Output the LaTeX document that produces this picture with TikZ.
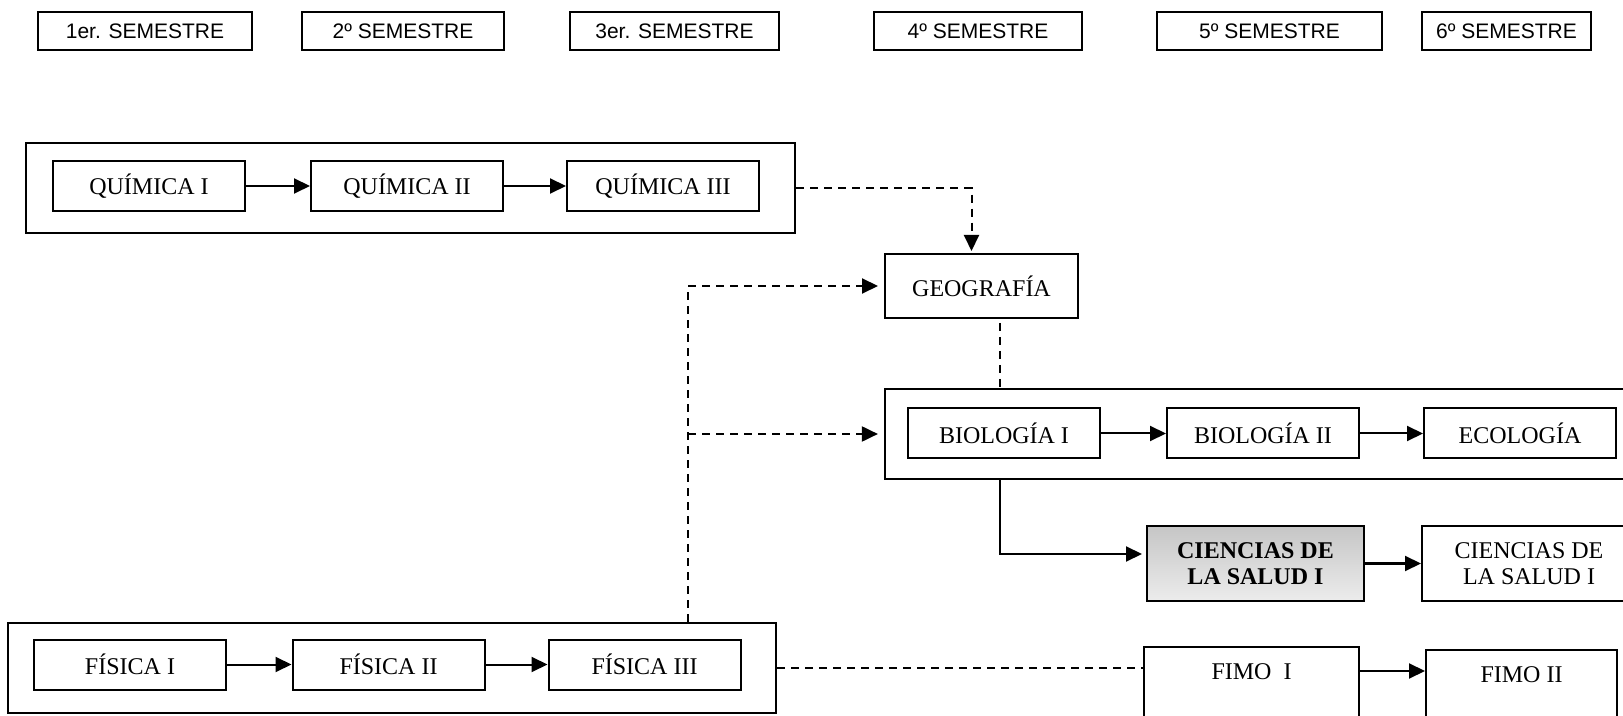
\documentclass[tikz,border=0pt]{standalone}
\usepackage{fontspec}
\setmainfont{Liberation Serif}
\setsansfont{Liberation Sans}
\usetikzlibrary{arrows.meta}
\begin{document}
\begin{tikzpicture}[x=0.5pt,y=-0.5pt,
  sem/.style={draw,line width=1pt,font=\sffamily\fontsize{10.5}{12}\selectfont,minimum height=19pt,inner sep=0pt},
  course/.style={draw,line width=1pt,font=\fontsize{12}{14}\selectfont,minimum width=96pt,minimum height=25pt,inner sep=0pt},
  group/.style={draw,line width=1.1pt,minimum height=45pt,inner sep=0pt},
  fimo/.style={draw,line width=1pt,font=\fontsize{12}{14}\selectfont,anchor=base,text height=8pt,text depth=40pt,inner ysep=8pt,inner xsep=0pt},
  tip/.style={-{Triangle[length=8pt,width=7.5pt]}},
  link/.style={line width=1pt,tip},
  dlink/.style={line width=1pt,dash pattern=on 4pt off 3pt}]
\useasboundingbox (0,0) rectangle (1623,716);
% semestres
\node[sem,minimum width=107pt] (s1) at (145,31) {1er. SEMESTRE};
\node[sem,minimum width=101pt] (s2) at (403,31) {2º SEMESTRE};
\node[sem,minimum width=104.5pt] (s3) at (674.5,31) {3er. SEMESTRE};
\node[sem,minimum width=104pt] (s4) at (978,31) {4º SEMESTRE};
\node[sem,minimum width=112.5pt] (s5) at (1269.5,31) {5º SEMESTRE};
\node[sem,minimum width=84.5pt] (s6) at (1506.5,31) {6º SEMESTRE};
% quimica
\node[group,minimum width=384.5pt] (qOut) at (410.5,188) {};
\node[course] (q1) at (149,186) {QUÍMICA I};
\node[course] (q2) at (407,186) {QUÍMICA II};
\node[course] (q3) at (663,186) {QUÍMICA III};
\draw[link] (q1) -- (q2);
\draw[link] (q2) -- (q3);
% geografia
\node[course,minimum width=96.5pt,minimum height=32pt] (geo) at (981.5,286) {GEOGRAFÍA};
\draw[dlink,tip,shorten >=1pt] (qOut.east) -| ([xshift=-5pt]geo.north);
% biologia
\node[group,minimum width=377.5pt] (bOut) at (1262.5,434) {};
\node[course] (b1) at (1004,433.5) {BIOLOGÍA I};
\node[course] (b2) at (1263,433.5) {BIOLOGÍA II};
\node[course] (eco) at (1520,433.5) {ECOLOGÍA};
\draw[link] (b1) -- (b2);
\draw[link] (b2) -- (eco);
\draw[dlink] ([xshift=9pt]geo.south) ++(0,4) -- ([xshift=9pt]geo.south |- bOut.north);
% ciencias de la salud
\node[course,minimum width=108.5pt,minimum height=37.5pt,align=center,font=\bfseries\fontsize{12}{13}\selectfont,
  top color=gray!45,middle color=white,bottom color=gray!15] (cs1) at (1255.5,563.5) {CIENCIAS DE\\LA SALUD I};
\node[course,minimum width=107pt,minimum height=37pt,align=center,font=\fontsize{12}{13}\selectfont] (cs2) at (1529,563.5) {CIENCIAS DE\\LA SALUD I};
\draw[link,shorten >=2pt] ([xshift=-2pt]b1.south |- bOut.south) |- ([yshift=4.75pt]cs1.west);
\draw[link] (cs1) -- (cs2);
% fisica
\node[group,minimum width=384pt] (fOut) at (392,668) {};
\node[course] (f1) at (130,664.5) {FÍSICA I};
\node[course] (f2) at (388.5,664.5) {FÍSICA II};
\node[course] (f3) at (644.5,664.5) {FÍSICA III};
\draw[link] (f1) -- (f2);
\draw[link] (f2) -- (f3);
\coordinate (spine) at (688,0);
\draw[dlink,tip,shorten >=3pt] (spine |- fOut.north) |- (geo.west);
\draw[dlink,tip,shorten >=3pt] (spine |- bOut.west) -- (bOut.west);
% fimo
\node[fimo,minimum width=107.5pt] (fm1) at (1251.5,679) {FIMO\ \ I};
\node[fimo,minimum width=95.5pt] (fm2) at (1521.5,682) {FIMO II};
\draw[dlink] (fOut.east) -- (fOut.east -| fm1.west);
\draw[link] ([yshift=4pt]fm1.base east) -- ([yshift=4pt]fm1.base east -| fm2.west);
\end{tikzpicture}
\end{document}
